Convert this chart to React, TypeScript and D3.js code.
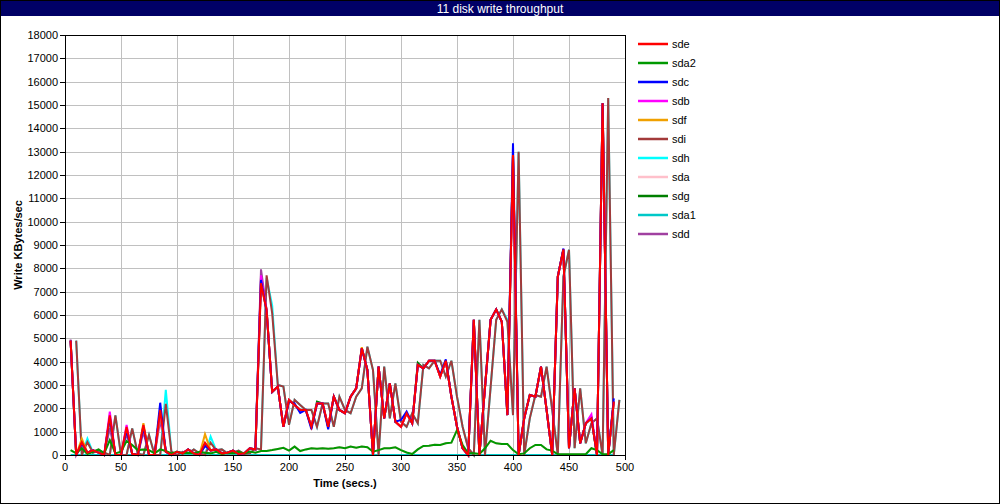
import React from "react";
import * as d3 from "d3";

const times = [5,10,15,20,25,30,35,40,45,50,55,60,65,70,75,80,85,90,95,100,105,110,115,120,125,130,135,140,145,150,155,160,165,170,175,180,185,190,195,200,205,210,215,220,225,230,235,240,245,250,255,260,265,270,275,280,285,290,295,300,305,310,315,320,325,330,335,340,345,350,355,360,365,370,375,380,385,390,395,400,405,410,415,420,425,430,435,440,445,450,455,460,465,470,475,480,485,490];
const lagTimes = [10,15,20,25,30,35,40,45,50,55,60,65,70,75,80,85,90,95,100,105,110,115,120,125,130,135,140,145,150,155,160,165,170,175,180,185,190,195,200,205,210,215,220,225,230,235,240,245,250,255,260,265,270,275,280,285,290,295,300,305,310,315,320,325,330,335,340,345,350,355,360,365,370,375,380,385,390,395,400,405,410,415,420,425,430,435,440,445,450,455,460,465,470,475,480,485,490,495];

const sde = [4900,0,550,100,200,100,0,1700,0,0, 1200,50,0,1290,0,0,1930,140,0,140, 70,240,70,0,530,200,240,70,100,190, 40,70,290,240,7360,6210,2710,2930,1210,2360, 2140,1930,1930,1210,2210,2210,1210,2500,1930,1790, 2500,2860,4570,3640,0,3790,1570,3070,1430,1210, 1790,1360,3860,3710,4040,4040,3360,4040,2500,1210, 290,0,5790,0,2900,5790,6240,5710,1710,12860, 0,1570,2570,2500,3790,1930,0,7640,8810,290, 2860,500,1360,1570,0,15070,0,2290];
const sdc = [4900,0,500,100,200,100,0,1600,0,0, 1050,50,0,1200,0,0,2240,140,0,140, 70,240,70,0,400,200,240,70,100,190, 40,70,290,240,7500,6150,2700,2930,1210,2300, 2200,1800,1930,1100,2210,2210,1100,2500,1930,1790, 2500,2860,4570,3640,0,3790,1570,3070,1430,1500, 1860,1360,3860,3710,4040,4040,3430,4100,2500,1210, 290,0,5790,0,2900,5790,6240,5710,1710,13360, 0,1570,2570,2500,3790,1930,0,7640,8850,290, 2860,500,1360,1570,0,15070,0,2430];
const sdb = [4900,0,500,100,200,100,0,1860,0,0, 1290,50,0,1200,0,0,1900,140,0,140, 70,240,70,0,450,200,240,70,100,190, 40,70,290,240,7700,6210,2710,2930,1210,2360, 2140,1930,1930,1210,2210,2210,1210,2500,1930,1790, 2500,2860,4570,3640,0,3790,1570,3070,1430,1210, 1790,1360,3860,3710,4040,4040,3360,4040,2500,1210, 290,0,5790,0,2900,5790,6240,5710,1710,12860, 0,1570,2570,2500,3790,1930,0,7640,8810,290, 2860,500,1360,1740,0,15070,0,2290];
const sdf = [4900,0,700,100,200,100,0,1600,0,0, 1100,50,0,1360,0,0,1800,140,0,140, 70,240,70,0,890,200,240,70,100,190, 40,70,290,240,7300,6210,2710,2930,1210,2360, 2140,1930,1930,1210,2210,2210,1210,2500,1930,1790, 2500,2860,4620,3640,0,3790,1570,3070,1430,1210, 1790,1360,3860,3710,4040,4040,3360,4040,2500,1210, 290,0,5790,0,2900,5790,6240,5710,1710,12860, 0,1570,2570,2500,3790,1930,0,7640,8810,290, 2860,500,1360,1570,0,15070,0,2290];
const sdg = [4900,0,500,100,200,100,0,1600,0,0, 1150,50,0,1250,0,0,1900,140,0,140, 70,240,70,0,500,200,240,70,100,190, 40,70,290,240,7600,6210,2710,2930,1210,2360, 2140,1930,1930,1210,2290,2210,1210,2500,1930,1790, 2500,2860,4570,3640,0,3790,1570,3070,1430,1210, 1790,1360,3950,3710,4040,4040,3360,4040,2500,1210, 290,0,5790,0,2900,5790,6240,5710,1710,12860, 0,1570,2570,2500,3790,1930,0,7640,8810,290, 2860,500,1360,1570,0,15070,0,2290];
const sdd = [4950,0,450,100,200,100,0,1150,0,0, 900,50,0,1000,0,0,1500,140,0,140, 70,240,70,0,400,200,240,70,100,190, 40,70,290,240,7960,6210,2710,2930,1210,2360, 2140,1930,1930,1210,2210,2210,1210,2500,1930,1790, 2500,2860,4570,3640,0,3790,1570,3070,1430,1210, 1790,1360,3860,3710,4040,4040,3360,4040,2500,1210, 290,0,5790,0,2900,5790,6240,5710,1710,12860, 0,1570,2570,2500,3790,1930,0,7640,8810,290, 2860,500,1360,1600,0,15070,0,2290];
const sdi = [4900,0,550,100,200,100,0,1700,0,0, 1140,50,0,860,0,0,2190,140,0,140, 70,240,70,0,530,200,240,70,100,190, 40,70,290,240,7700,6070,3000,2930,1290,2360, 2140,1930,1930,1210,2210,2210,1210,2500,1930,1790, 2500,2860,4640,3640,0,3790,1570,3070,1430,1210, 1790,1360,3860,3710,4040,4040,3360,4040,2500,1210, 290,0,5790,0,2900,5790,6240,5710,1710,13000, 0,1570,2570,2500,3790,1930,0,7640,8800,290, 2860,500,1360,1570,0,15300,0,2360];
const sdh = [4900,0,700,100,200,100,0,1700,0,0, 1140,50,0,860,0,0,2790,140,0,140, 70,240,70,0,790,200,240,70,100,190, 40,70,290,240,7600,6400,3000,2930,1290,2360, 2140,1930,1930,1210,2210,2210,1210,2500,1930,1790, 2500,2860,4640,3640,0,3790,1570,3070,1430,1210, 1790,1360,3860,3710,4040,4040,3360,4040,2500,1210, 290,0,5790,0,2900,5790,6240,5800,1710,13000, 0,1570,2570,2500,3790,1930,0,7640,8800,290, 2860,500,1360,1570,0,15300,0,2360];
const sda2 = [210,70,290,40,140,240,70,640,70,140, 600,430,210,240,210,70,240,170,70,140, 70,100,70,140,100,70,140,30,100,70, 140,70,150,100,170,170,210,260,310,190, 360,170,240,290,270,290,270,290,330,290, 360,310,360,330,140,210,290,290,330,210, 110,40,240,390,400,440,430,500,530,1070, 430,70,70,40,290,610,500,470,470,210, 30,70,290,430,430,240,190,30,30,30, 30,30,30,290,210,30,30,210];
const sda = [210,70,290,40,140,240,70,640,70,140, 600,430,210,240,210,70,240,170,70,140, 70,100,70,140,100,70,140,30,100,70, 140,70,150,100,170,170,210,260,310,190, 360,170,240,290,270,290,270,290,330,290, 360,310,360,330,140,210,290,290,330,210, 110,40,240,390,400,440,430,500,530,1070, 430,70,70,40,290,610,500,470,470,210, 30,70,290,430,430,240,190,30,30,30, 30,30,30,290,210,30,30,210];
const sda1 = [0,0,0,0,0,0,0,0,0,0, 0,0,0,0,0,0,0,0,0,0, 0,0,0,0,0,0,0,0,0,0, 0,0,0,0,0,0,0,0,0,0, 0,0,0,0,0,0,0,0,0,0, 0,0,0,0,0,0,0,0,0,0, 0,0,0,0,0,0,0,0,0,0, 0,0,0,0,0,0,0,0,0,0, 0,0,0,0,0,0,0,0,0,0, 0,0,0,0,0,0,0,0];

const seriesNames = ["sde","sda2","sdc","sdb","sdf","sdi","sdh","sda","sdg","sda1","sdd"];
const seriesColors = ["#ff0000","#009900","#0000ff","#ff00ff","#f0a000","#a33a3a","#00ffff","#ffc0cb","#007f00","#00c8c8","#a040a0"];
const seriesValues = [sde,sda2,sdc,sdb,sdf,sdi,sdh,sda,sdg,sda1,sdd];
const seriesTimes = [times,times,times,times,times,lagTimes,lagTimes,times,times,times,times];

const yTicks = [0,1000,2000,3000,4000,5000,6000,7000,8000,9000,10000,11000,12000,13000,14000,15000,16000,17000,18000];
const xTicks = [0,50,100,150,200,250,300,350,400,450,500];

const FONT = "'Liberation Sans', Arial, sans-serif";

export default function App() {
  const W = 1000, H = 504;
  const L = 65, R = 625, T = 35, B = 455;
  const x = d3.scaleLinear().domain([0, 500]).range([L, R]);
  const y = d3.scaleLinear().domain([0, 18000]).range([B, T]);
  const line = d3.line<[number, number]>().x(d => x(d[0])).y(d => y(d[1]));
  const order = seriesNames.map((_, i) => i).reverse();

  return (
    <svg width={W} height={H} style={{ position: "absolute", left: 0, top: 0, background: "#fff" }} fontFamily={FONT}>
      <rect x={0} y={0} width={W} height={H} fill="#fff" />
      <rect x={0} y={0} width={W} height={16} fill="#000066" />
      <text x={500} y={12.5} fill="#fff" fontSize={12} textAnchor="middle">11 disk write throughput</text>
      <rect x={0.5} y={0.5} width={W - 1} height={H - 1} fill="none" stroke="#000" />

      {yTicks.map(t => (
        <line key={"gy" + t} x1={L} x2={R} y1={Math.round(y(t)) + 0.5} y2={Math.round(y(t)) + 0.5} stroke="#c0c0c0" />
      ))}
      {xTicks.map(t => (
        <line key={"gx" + t} x1={Math.round(x(t)) + 0.5} x2={Math.round(x(t)) + 0.5} y1={T} y2={B} stroke="#c0c0c0" />
      ))}

      {order.map(i => (
        <path key={seriesNames[i]}
          d={line(seriesTimes[i].map((t, k) => [t, seriesValues[i][k]] as [number, number])) || ""}
          fill="none" stroke={seriesColors[i]} strokeWidth={2} strokeLinejoin="miter" />
      ))}

      <rect x={L + 0.5} y={T + 0.5} width={R - L} height={B - T} fill="none" stroke="#000" />

      {yTicks.map(t => (
        <g key={"yt" + t}>
          <line x1={L - 5} x2={L} y1={Math.round(y(t)) + 0.5} y2={Math.round(y(t)) + 0.5} stroke="#000" />
          <text x={L - 7} y={y(t) + 4} fontSize={11} textAnchor="end">{t}</text>
        </g>
      ))}
      {xTicks.map(t => (
        <g key={"xt" + t}>
          <line x1={Math.round(x(t)) + 0.5} x2={Math.round(x(t)) + 0.5} y1={B} y2={B + 5} stroke="#000" />
          <text x={x(t)} y={B + 16} fontSize={11} textAnchor="middle">{t}</text>
        </g>
      ))}

      <text x={345} y={487} fontSize={11} fontWeight="bold" textAnchor="middle">Time (secs.)</text>
      <text transform="translate(22,245) rotate(-90)" fontSize={11} fontWeight="bold" textAnchor="middle">Write KBytes/sec</text>

      {seriesNames.map((n, i) => (
        <g key={"lg" + n}>
          <line x1={638} x2={668} y1={44 + 19 * i} y2={44 + 19 * i} stroke={seriesColors[i]} strokeWidth={2.5} />
          <text x={672} y={44 + 19 * i + 4} fontSize={11}>{n}</text>
        </g>
      ))}
    </svg>
  );
}
